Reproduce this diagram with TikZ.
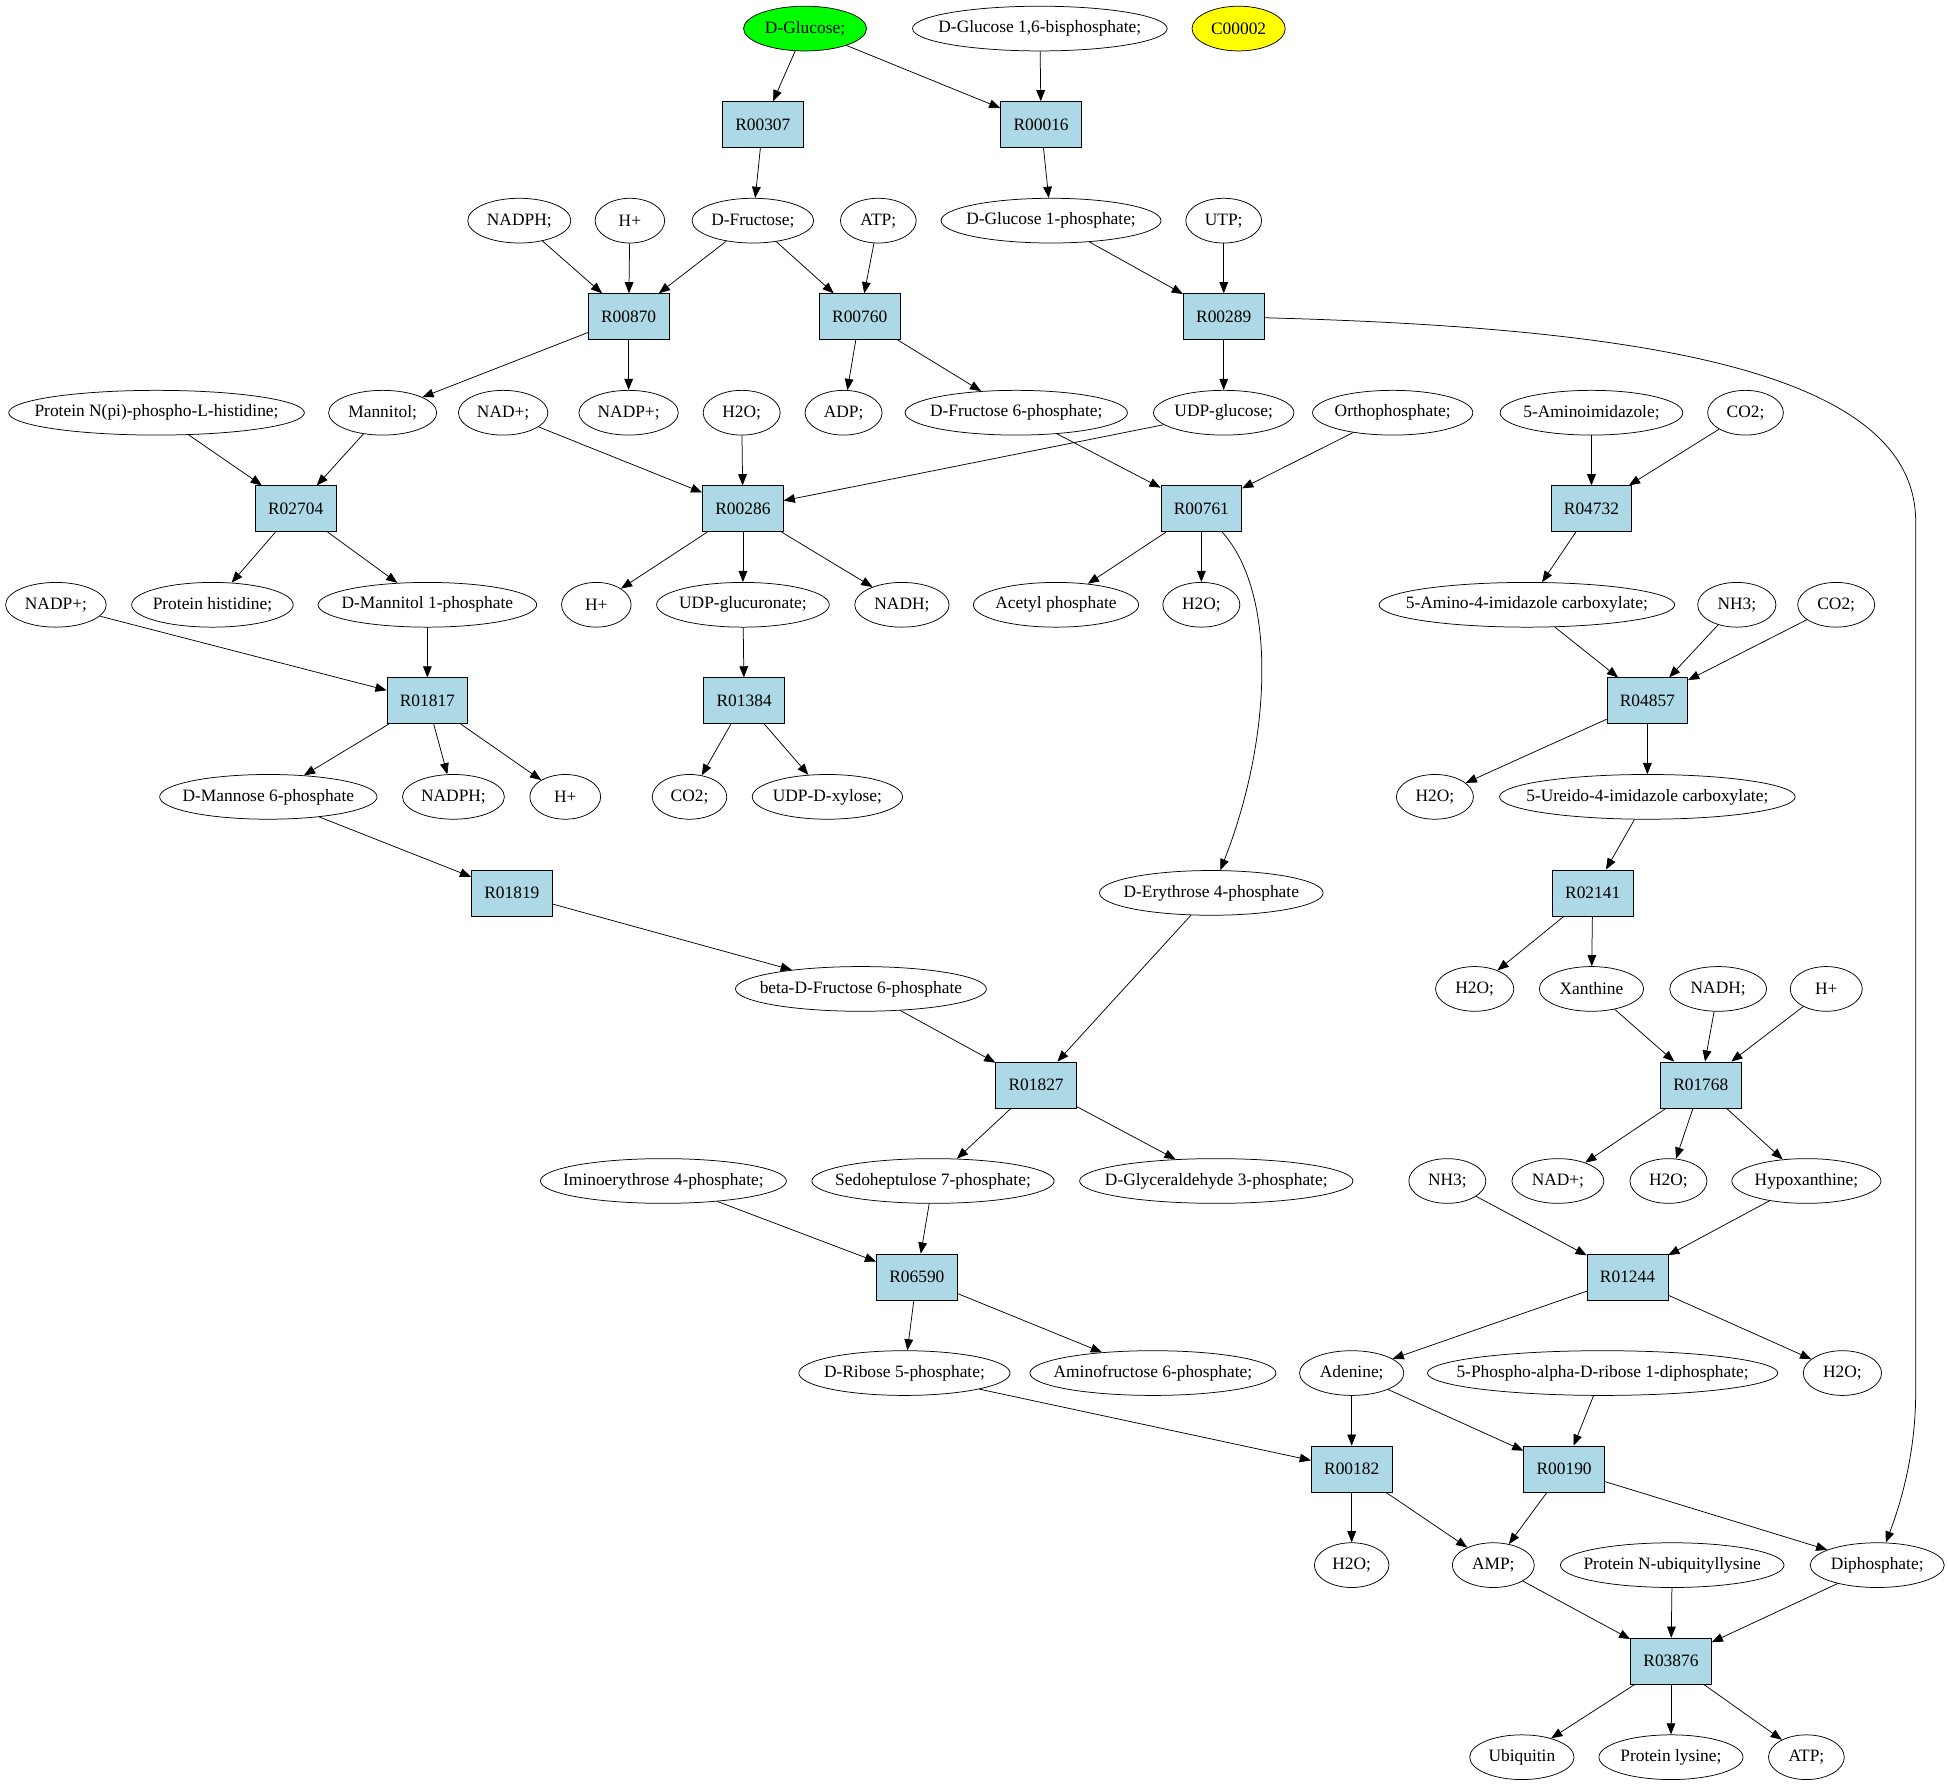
\documentclass[tikz,border=0pt]{standalone}
\usepackage{fontspec}
\setmainfont{Liberation Serif}
\usetikzlibrary{shapes.geometric}
\usetikzlibrary{arrows.meta}
\definecolor{rxnblue}{RGB}{173,216,230}
\definecolor{startgreen}{RGB}{0,255,0}
\definecolor{markyellow}{RGB}{255,255,0}

\begin{document}
\begin{tikzpicture}[x=1pt,y=-1pt,line width=0.6pt,
	font=\fontsize{14}{16}\selectfont,
	>={Triangle[length=9pt,width=7pt]},
	rxn/.style={draw,fill=rxnblue,rectangle,minimum width=65pt,minimum height=37pt,inner sep=0pt},
	cpd/.style={draw,ellipse,minimum height=36pt,inner xsep=-60pt,inner ysep=-20pt}]
	\useasboundingbox (0,0) rectangle (1568,1438);

	%row 0
	\node[cpd,fill=startgreen,minimum width=99pt] (glc) at (648,23) {D-Glucose;};
	\node[cpd,minimum width=205pt] (glc16bp) at (837,23) {D-Glucose 1,6-bisphosphate;};
	\node[cpd,fill=markyellow,minimum width=75pt] (c00002) at (997,23) {C00002};
	%row 1
	\node[rxn] (r00307) at (614,100.3) {R00307};
	\node[rxn] (r00016) at (838,100.3) {R00016};
	%row 2
	\node[cpd,minimum width=83pt] (nadph1) at (418,177.6) {NADPH;};
	\node[cpd,minimum width=56pt] (hplus1) at (507,177.6) {H+};
	\node[cpd,minimum width=98pt] (fru) at (606,177.6) {D-Fructose;};
	\node[cpd,minimum width=61pt] (atp1) at (707,177.6) {ATP;};
	\node[cpd,minimum width=177pt] (g1p) at (846,177.6) {D-Glucose 1-phosphate;};
	\node[cpd,minimum width=61pt] (utp) at (985,177.6) {UTP;};
	%row 3
	\node[rxn] (r00870) at (506,254.9) {R00870};
	\node[rxn] (r00760) at (692,254.9) {R00760};
	\node[rxn] (r00289) at (985,254.9) {R00289};
	%row 4
	\node[cpd,minimum width=238pt] (prothisp) at (126,332.2) {Protein N(pi)-phospho-L-histidine;};
	\node[cpd,minimum width=87pt] (mannitol) at (308,332.2) {Mannitol;};
	\node[cpd,minimum width=72pt] (nad1) at (405,332.2) {NAD+;};
	\node[cpd,minimum width=80pt] (nadp1) at (506,332.2) {NADP+;};
	\node[cpd,minimum width=62pt] (h2o1) at (597,332.2) {H2O;};
	\node[cpd,minimum width=62pt] (adp) at (679,332.2) {ADP;};
	\node[cpd,minimum width=179pt] (f6p) at (818,332.2) {D-Fructose 6-phosphate;};
	\node[cpd,minimum width=113pt] (udpglc) at (985,332.2) {UDP-glucose;};
	\node[cpd,minimum width=129pt] (pi) at (1121,332.2) {Orthophosphate;};
	\node[cpd,minimum width=147pt] (air) at (1281,332.2) {5-Aminoimidazole;};
	\node[cpd,minimum width=61pt] (co2a) at (1405,332.2) {CO2;};
	%row 5
	\node[rxn] (r02704) at (238,409.5) {R02704};
	\node[rxn] (r00286) at (598,409.5) {R00286};
	\node[rxn] (r00761) at (967,409.5) {R00761};
	\node[rxn] (r04732) at (1281,409.5) {R04732};
	%row 6
	\node[cpd,minimum width=81pt] (nadp2) at (45,486.8) {NADP+;};
	\node[cpd,minimum width=130pt] (prothis) at (171,486.8) {Protein histidine;};
	\node[cpd,minimum width=176pt] (mtl1p) at (344,486.8) {D-Mannitol 1-phosphate};
	\node[cpd,minimum width=56pt] (hplus2) at (480,486.8) {H+};
	\node[cpd,minimum width=139pt] (udpglca) at (598,486.8) {UDP-glucuronate;};
	\node[cpd,minimum width=76pt] (nadh1) at (726,486.8) {NADH;};
	\node[cpd,minimum width=133pt] (acp) at (850,486.8) {Acetyl phosphate};
	\node[cpd,minimum width=62pt] (h2o2) at (967,486.8) {H2O;};
	\node[cpd,minimum width=238pt] (aircx) at (1229,486.8) {5-Amino-4-imidazole carboxylate;};
	\node[cpd,minimum width=63pt] (nh3a) at (1398,486.8) {NH3;};
	\node[cpd,minimum width=62pt] (co2b) at (1478,486.8) {CO2;};
	%row 7
	\node[rxn] (r01817) at (344,564.1) {R01817};
	\node[rxn] (r01384) at (599,564.1) {R01384};
	\node[rxn] (r04857) at (1326,564.1) {R04857};
	%row 8
	\node[cpd,minimum width=175pt] (man6p) at (216,641.4) {D-Mannose 6-phosphate};
	\node[cpd,minimum width=82pt] (nadph2) at (365,641.4) {NADPH;};
	\node[cpd,minimum width=57pt] (hplus3) at (455,641.4) {H+};
	\node[cpd,minimum width=60pt] (co2c) at (555,641.4) {CO2;};
	\node[cpd,minimum width=121pt] (udpxyl) at (666,641.4) {UDP-D-xylose;};
	\node[cpd,minimum width=62pt] (h2o3) at (1155,641.4) {H2O;};
	\node[cpd,minimum width=238pt] (ureido) at (1326,641.4) {5-Ureido-4-imidazole carboxylate;};
	%row 9
	\node[rxn] (r01819) at (412,718.7) {R01819};
	\node[cpd,minimum width=180pt] (e4p) at (975,718.7) {D-Erythrose 4-phosphate};
	\node[rxn] (r02141) at (1282,718.7) {R02141};
	%row 10
	\node[cpd,minimum width=202pt] (bf6p) at (693,796) {beta-D-Fructose 6-phosphate};
	\node[cpd,minimum width=63pt] (h2o4) at (1187,796) {H2O;};
	\node[cpd,minimum width=84pt] (xan) at (1281,796) {Xanthine};
	\node[cpd,minimum width=78pt] (nadh2) at (1383,796) {NADH;};
	\node[cpd,minimum width=58pt] (hplus4) at (1470,796) {H+};
	%row 11
	\node[rxn] (r01827) at (834,873.3) {R01827};
	\node[rxn] (r01768) at (1369,873.3) {R01768};
	%row 12
	\node[cpd,minimum width=198pt] (imino) at (534,950.6) {Iminoerythrose 4-phosphate;};
	\node[cpd,minimum width=195pt] (s7p) at (751,950.6) {Sedoheptulose 7-phosphate;};
	\node[cpd,minimum width=220pt] (gap) at (979,950.6) {D-Glyceraldehyde 3-phosphate;};
	\node[cpd,minimum width=62pt] (nh3b) at (1165,950.6) {NH3;};
	\node[cpd,minimum width=74pt] (nad2) at (1254,950.6) {NAD+;};
	\node[cpd,minimum width=62pt] (h2o5) at (1343,950.6) {H2O;};
	\node[cpd,minimum width=120pt] (hyp) at (1454,950.6) {Hypoxanthine;};
	%row 13
	\node[rxn] (r06590) at (738,1027.9) {R06590};
	\node[rxn] (r01244) at (1310,1027.9) {R01244};
	%row 14
	\node[cpd,minimum width=170pt] (r5p) at (728,1105.2) {D-Ribose 5-phosphate;};
	\node[cpd,minimum width=198pt] (aminof6p) at (928,1105.2) {Aminofructose 6-phosphate;};
	\node[cpd,minimum width=84pt] (ade) at (1088,1105.2) {Adenine;};
	\node[cpd,minimum width=282pt] (prpp) at (1290,1105.2) {5-Phospho-alpha-D-ribose 1-diphosphate;};
	\node[cpd,minimum width=63pt] (h2o6) at (1483,1105.2) {H2O;};
	%row 15
	\node[rxn] (r00182) at (1088,1182.5) {R00182};
	\node[rxn] (r00190) at (1259,1182.5) {R00190};
	%row 16
	\node[cpd,minimum width=60pt] (h2o7) at (1088,1259.8) {H2O;};
	\node[cpd,minimum width=66pt] (amp) at (1202,1259.8) {AMP;};
	\node[cpd,minimum width=180pt] (protub) at (1346,1259.8) {Protein N-ubiquityllysine};
	\node[cpd,minimum width=108pt] (ppi) at (1511,1259.8) {Diphosphate;};
	%row 17
	\node[rxn] (r03876) at (1345,1337.1) {R03876};
	%row 18
	\node[cpd,minimum width=84pt] (ub) at (1225,1414.4) {Ubiquitin};
	\node[cpd,minimum width=116pt] (prolys) at (1345,1414.4) {Protein lysine;};
	\node[cpd,minimum width=61pt] (atp2) at (1454,1414.4) {ATP;};

	%glucose branch
	\draw[->] (glc) -- (r00307);
	\draw[->] (glc) -- (r00016);
	\draw[->] (glc16bp) -- (r00016);
	\draw[->] (r00307) -- (fru);
	\draw[->] (r00016) -- (g1p);
	\draw[->] (nadph1) -- (r00870);
	\draw[->] (hplus1) -- (r00870);
	\draw[->] (fru) -- (r00870);
	\draw[->] (fru) -- (r00760);
	\draw[->] (atp1) -- (r00760);
	\draw[->] (g1p) -- (r00289);
	\draw[->] (utp) -- (r00289);
	\draw[->] (r00870) -- (mannitol);
	\draw[->] (r00870) -- (nadp1);
	\draw[->] (r00760) -- (adp);
	\draw[->] (r00760) -- (f6p);
	\draw[->] (r00289) -- (udpglc);
	\draw[->] (r00289) .. controls (1330,264) and (1542,300) .. (1542,420)
		-- (1542,1120) .. controls (1542,1170) and (1530,1210) .. (ppi);	%long way round
	%mannitol and glucuronate
	\draw[->] (prothisp) -- (r02704);
	\draw[->] (mannitol) -- (r02704);
	\draw[->] (nad1) -- (r00286);
	\draw[->] (h2o1) -- (r00286);
	\draw[->] (udpglc) -- (r00286);
	\draw[->] (f6p) -- (r00761);
	\draw[->] (pi) -- (r00761);
	\draw[->] (r02704) -- (prothis);
	\draw[->] (r02704) -- (mtl1p);
	\draw[->] (r00286) -- (hplus2);
	\draw[->] (r00286) -- (udpglca);
	\draw[->] (r00286) -- (nadh1);
	\draw[->] (r00761) -- (acp);
	\draw[->] (r00761) -- (h2o2);
	\draw[->] (r00761) .. controls (1030,480) and (1022,600) .. (e4p);
	\draw[->] (nadp2) -- (r01817);
	\draw[->] (mtl1p) -- (r01817);
	\draw[->] (udpglca) -- (r01384);
	\draw[->] (r01817) -- (man6p);
	\draw[->] (r01817) -- (nadph2);
	\draw[->] (r01817) -- (hplus3);
	\draw[->] (r01384) -- (co2c);
	\draw[->] (r01384) -- (udpxyl);
	\draw[->] (man6p) -- (r01819);
	\draw[->] (r01819) -- (bf6p);
	%pentose part
	\draw[->] (bf6p) -- (r01827);
	\draw[->] (e4p) -- (r01827);
	\draw[->] (r01827) -- (s7p);
	\draw[->] (r01827) -- (gap);
	\draw[->] (imino) -- (r06590);
	\draw[->] (s7p) -- (r06590);
	\draw[->] (r06590) -- (r5p);
	\draw[->] (r06590) -- (aminof6p);
	%purine part
	\draw[->] (air) -- (r04732);
	\draw[->] (co2a) -- (r04732);
	\draw[->] (r04732) -- (aircx);
	\draw[->] (aircx) -- (r04857);
	\draw[->] (nh3a) -- (r04857);
	\draw[->] (co2b) -- (r04857);
	\draw[->] (r04857) -- (h2o3);
	\draw[->] (r04857) -- (ureido);
	\draw[->] (ureido) -- (r02141);
	\draw[->] (r02141) -- (h2o4);
	\draw[->] (r02141) -- (xan);
	\draw[->] (xan) -- (r01768);
	\draw[->] (nadh2) -- (r01768);
	\draw[->] (hplus4) -- (r01768);
	\draw[->] (r01768) -- (nad2);
	\draw[->] (r01768) -- (h2o5);
	\draw[->] (r01768) -- (hyp);
	\draw[->] (nh3b) -- (r01244);
	\draw[->] (hyp) -- (r01244);
	\draw[->] (r01244) -- (ade);
	\draw[->] (r01244) -- (h2o6);
	%bottom
	\draw[->] (r5p) -- (r00182);
	\draw[->] (ade) -- (r00182);
	\draw[->] (ade) -- (r00190);
	\draw[->] (prpp) -- (r00190);
	\draw[->] (r00182) -- (h2o7);
	\draw[->] (r00182) -- (amp);
	\draw[->] (r00190) -- (amp);
	\draw[->] (r00190) -- (ppi);
	\draw[->] (amp) -- (r03876);
	\draw[->] (protub) -- (r03876);
	\draw[->] (ppi) -- (r03876);
	\draw[->] (r03876) -- (ub);
	\draw[->] (r03876) -- (prolys);
	\draw[->] (r03876) -- (atp2);
\end{tikzpicture}
\end{document}
